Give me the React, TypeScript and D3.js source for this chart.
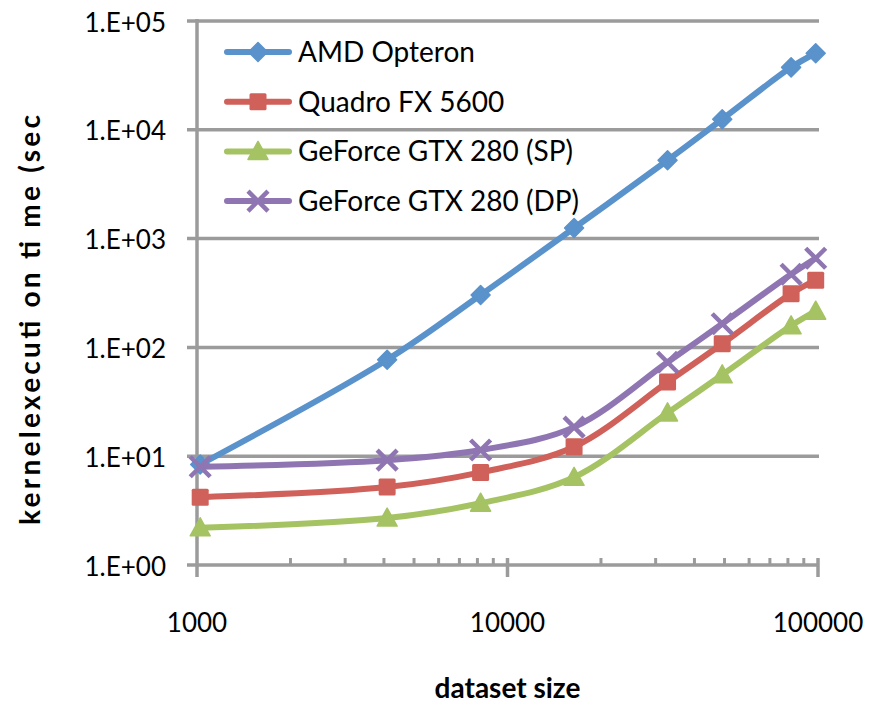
import React from "react";
import * as d3 from "d3";

const sizes = [1024, 4096, 8192, 16384, 32768, 49152, 81920, 98304];
const seriesNames = ["AMD Opteron", "Quadro FX 5600", "GeForce GTX 280 (SP)", "GeForce GTX 280 (DP)"];
const amdOpteron = [8.4, 77, 303, 1250, 5250, 12500, 37500, 50500];
const quadroFX5600 = [4.2, 5.2, 7.1, 12.2, 48, 108, 312, 415];
const gtx280SP = [2.2, 2.7, 3.7, 6.4, 25, 56, 158, 215];
const gtx280DP = [8.0, 9.2, 11.4, 18.5, 73, 165, 470, 660];
const yTicks = [1, 10, 100, 1000, 10000, 100000];
const yTickLabels = ["1.E+00", "1.E+01", "1.E+02", "1.E+03", "1.E+04", "1.E+05"];
const xTicks = [1000, 10000, 100000];
const xTickLabels = ["1000", "10000", "100000"];

const colors = ["#5A92CB", "#D0605A", "#A5C363", "#8F76B2"];
const markers = ["diamond", "square", "triangle", "x"];
const FONT = "Lato, 'Open Sans', sans-serif";
const GRID = "#9B9B9B";

function Marker({ type, x, y, color }: { type: string; x: number; y: number; color: string }) {
  if (type === "diamond") {
    const s = 9.5;
    return <path d={`M${x},${y - s}L${x + s},${y}L${x},${y + s}L${x - s},${y}Z`} fill={color} stroke={color} strokeWidth={1.5} strokeLinejoin="round" />;
  }
  if (type === "square") {
    const s = 8.5;
    return <rect x={x - s} y={y - s} width={2 * s} height={2 * s} rx={1.5} fill={color} />;
  }
  if (type === "triangle") {
    const s = 10;
    return <path d={`M${x},${y - s}L${x + s},${y + s * 0.8}L${x - s},${y + s * 0.8}Z`} fill={color} stroke={color} strokeWidth={1.5} strokeLinejoin="round" />;
  }
  const s = 10;
  return (
    <path d={`M${x - s},${y - s}L${x + s},${y + s}M${x - s},${y + s}L${x + s},${y - s}`} stroke={color} strokeWidth={4.5} fill="none" />
  );
}

export default function App() {
  const W = 871, H = 703;
  const x = d3.scaleLog().domain([1000, 100000]).range([197, 818]);
  const y = d3.scaleLog().domain([1, 100000]).range([565, 21]);
  const all = [amdOpteron, quadroFX5600, gtx280SP, gtx280DP];
  const line = d3
    .line<[number, number]>()
    .x((d) => x(d[0]))
    .y((d) => y(d[1]))
    .curve(d3.curveCatmullRom.alpha(0.5));

  const minorX: number[] = [];
  for (const dec of [1000, 10000]) for (let k = 2; k <= 9; k++) minorX.push(dec * k);

  return (
    <svg width={W} height={H} style={{ position: "absolute", left: 0, top: 0, background: "#fff" }}>
      {/* gridlines */}
      {yTicks.map((t) => (
        <line key={"g" + t} x1={187} x2={819} y1={y(t)} y2={y(t)} stroke={GRID} strokeWidth={3.5} />
      ))}
      {/* y axis */}
      <line x1={x(1000)} x2={x(1000)} y1={y(100000) - 2} y2={577} stroke={GRID} strokeWidth={3.5} />
      {/* x ticks */}
      {xTicks.slice(1).map((t) => (
        <line key={"xt" + t} x1={x(t)} x2={x(t)} y1={558} y2={577} stroke={GRID} strokeWidth={3.5} />
      ))}
      {minorX.map((t) => (
        <line key={"mx" + t} x1={x(t)} x2={x(t)} y1={558} y2={565} stroke={GRID} strokeWidth={3} />
      ))}
      {/* y tick labels */}
      {yTicks.map((t, i) => (
        <text key={"yl" + t} x={166} y={y(t) + 10.5} textAnchor="end" fontFamily={FONT} fontSize={26} fill="#000">
          {yTickLabels[i]}
        </text>
      ))}
      {/* x tick labels */}
      {xTicks.map((t, i) => (
        <text key={"xl" + t} x={x(t)} y={632} textAnchor="middle" fontFamily={FONT} fontSize={26} fill="#000">
          {xTickLabels[i]}
        </text>
      ))}
      {/* axis titles */}
      <text x={507.5} y={698} textAnchor="middle" fontFamily={FONT} fontWeight="bold" fontSize={28} fill="#000">
        dataset size
      </text>
      <text
        transform={`translate(40,320) rotate(-90)`}
        textAnchor="middle"
        fontFamily={FONT}
        fontWeight="bold"
        fontSize={28}
        fill="#000"
        textLength={410}
        lengthAdjust="spacing"
      >
        kernelexecuti on ti me (sec
      </text>
      {/* series */}
      {all.map((vals, si) => {
        const pts = sizes.map((s, i) => [s, vals[i]] as [number, number]);
        return (
          <g key={"s" + si}>
            <path d={line(pts) || ""} fill="none" stroke={colors[si]} strokeWidth={6} strokeLinejoin="round" strokeLinecap="round" />
            {pts.map((p, i) => (
              <Marker key={i} type={markers[si]} x={x(p[0])} y={y(p[1])} color={colors[si]} />
            ))}
          </g>
        );
      })}
      {/* legend */}
      {seriesNames.map((n, i) => {
        const ly = 52 + i * 49.7;
        return (
          <g key={"lg" + i}>
            <line x1={227} x2={289} y1={ly} y2={ly} stroke={colors[i]} strokeWidth={6} strokeLinecap="round" />
            <Marker type={markers[i]} x={258} y={ly} color={colors[i]} />
            <text x={298} y={ly + 10} fontFamily={FONT} fontSize={28} fill="#000">
              {n}
            </text>
          </g>
        );
      })}
    </svg>
  );
}
